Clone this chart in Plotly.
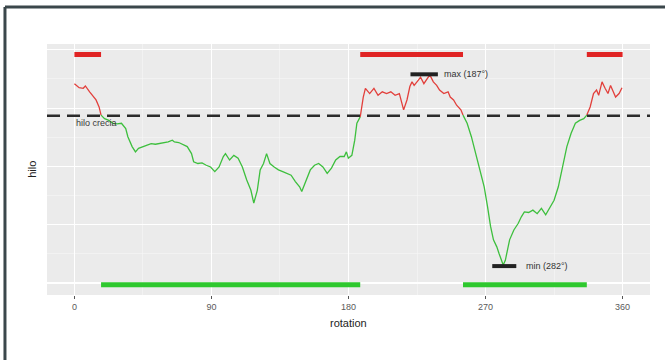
import plotly.graph_objects as go

# ---- data ----
rotation = [0, 3.1, 5.8, 7.2, 10.0, 12.8, 14.2, 16.2, 17.5,
            19.8, 22.6, 25.3, 28.1, 30.9, 33.7, 35.1, 37.9, 40.1, 42.1, 44.8, 47.6, 50.4, 53.2, 56.0,
            58.8, 61.6, 64.3, 65.7, 68.5, 71.3, 74.1, 76.9, 78.3, 81.1, 83.8, 86.6, 89.4, 92.2, 95.0,
            97.8, 99.2, 101.9, 104.7, 107.5, 110.3, 113.1, 115.9, 117.8, 120.1, 122.0, 124.2, 126.2,
            128.4, 131.2, 134.0, 136.8, 139.6, 142.3, 145.1, 147.9, 149.3, 152.1, 154.9, 157.7, 160.4,
            163.2, 166.0, 168.8, 171.6, 174.4, 177.2, 178.6, 179.9, 182.2, 184.1, 185.5, 187.7,
            189.7, 191.1, 193.9, 196.7, 199.4, 202.2, 205.0, 207.8, 210.6, 213.4, 214.8, 216.2, 218.4,
            220.3, 221.7, 223.1, 225.9, 227.3, 229.5, 231.5, 233.4, 235.7, 237.9, 239.8, 242.6, 245.4,
            246.8, 249.0, 251.0, 253.8, 255.2,
            257.9, 260.7, 263.5, 266.3, 269.1, 271.3, 273.3, 275.2, 277.4, 278.8, 280.2, 281.6, 283.0,
            284.4, 285.8, 288.6, 291.4, 293.6, 295.5, 298.3, 301.1, 303.9, 306.7, 309.5, 312.3, 315.0,
            317.8, 320.6, 323.4, 326.2, 329.0, 331.8, 334.5, 336.5,
            338.7, 340.9, 342.9, 344.3, 346.5, 348.5, 350.4, 352.1, 354.1, 355.4, 357.7, 359.6]
hilo = [34.2, 33.5, 33.4, 33.8, 32.8, 31.9, 31.4, 30.2, 28.8,
        28.2, 27.9, 27.4, 27.3, 27.4, 26.5, 25.1, 23.4, 22.5, 23.1, 23.4, 23.7, 23.9, 23.8, 23.9,
        24.1, 24.2, 24.5, 24.2, 24.1, 23.8, 23.4, 22.2, 20.8, 20.5, 20.6, 20.2, 19.9, 19.1, 19.9,
        21.7, 22.2, 21.1, 21.9, 21.4, 19.9, 17.7, 15.9, 13.7, 15.9, 19.4, 20.5, 22.2,
        20.5, 19.9, 19.4, 19.1, 18.8, 18.5, 17.4, 16.5, 15.7, 17.7, 19.4, 20.2, 20.5,
        19.9, 18.8, 19.7, 21.1, 21.7, 21.7, 22.5, 21.4, 21.9, 24.5, 27.4, 28.5,
        31.9, 33.4, 32.5, 33.4, 32.2, 32.8, 32.5, 32.8, 32.2, 32.5, 30.8, 29.7, 31.4,
        33.7, 34.5, 33.9, 34.8, 35.3, 34.2, 35.1, 35.7, 34.5, 33.9, 33.1, 32.5, 32.8,
        31.9, 31.4, 30.5, 29.7, 28.8,
        27.4, 25.1, 22.2, 19.4, 16.5, 13.1, 9.7, 7.4, 6.2, 5.1, 4.2, 3.1, 3.9,
        5.7, 7.4, 9.1, 10.2, 11.4, 12.2, 12.1, 12.5, 11.9, 12.8, 11.7, 13.1, 14.2,
        16.5, 19.9, 23.4, 25.7, 27.4, 27.9, 28.2, 28.8,
        30.2, 32.5, 33.1, 32.2, 34.5, 33.4, 32.5, 33.9, 32.8, 31.9, 32.5, 33.5]

threshold = 28.7
threshold_label = "hilo crecia"

# spans above / below threshold (start, end in degrees)
above_spans = [(0, 17.5), (187.7, 255.2), (336.5, 360)]
below_spans = [(17.5, 187.7), (255.2, 336.5)]
above_band = 39.2
below_band = -0.3

max_label = "max (187°)"
max_span = (220.7, 238.7)
max_value = 35.8
min_label = "min (282°)"
min_span = (274.4, 290.2)
min_value = 2.9

x_ticks = [0, 90, 180, 270, 360]

RED_LINE = "#e2403c"
GREEN_LINE = "#3dbf3d"
RED_BAR = "#e02424"
GREEN_BAR = "#2ec82e"

fig = go.Figure()

# colored line split by threshold
segs = []
cur_color = None
cur_x, cur_y = [], []
for i in range(len(rotation) - 1):
    c = RED_LINE if (hilo[i] + hilo[i + 1]) / 2 >= threshold else GREEN_LINE
    if c != cur_color:
        if cur_color is not None:
            segs.append((cur_color, cur_x, cur_y))
        cur_color = c
        cur_x, cur_y = [rotation[i]], [hilo[i]]
    cur_x.append(rotation[i + 1])
    cur_y.append(hilo[i + 1])
segs.append((cur_color, cur_x, cur_y))

for c, xs, ys in segs:
    fig.add_trace(go.Scatter(x=xs, y=ys, mode="lines",
                             line=dict(color=c, width=1.3), hoverinfo="skip"))

# threshold dashed line
fig.add_trace(go.Scatter(x=[-18, 378], y=[threshold, threshold], mode="lines",
                         line=dict(color="#2b2b2b", width=2.6, dash="13px,7px"), hoverinfo="skip"))

# bands
for a, b in above_spans:
    fig.add_trace(go.Scatter(x=[a, b], y=[above_band, above_band], mode="lines",
                             line=dict(color=RED_BAR, width=5), hoverinfo="skip"))
for a, b in below_spans:
    fig.add_trace(go.Scatter(x=[a, b], y=[below_band, below_band], mode="lines",
                             line=dict(color=GREEN_BAR, width=5), hoverinfo="skip"))

# max / min markers
fig.add_trace(go.Scatter(x=list(max_span), y=[max_value, max_value], mode="lines",
                         line=dict(color="#222222", width=4), hoverinfo="skip"))
fig.add_trace(go.Scatter(x=list(min_span), y=[min_value, min_value], mode="lines",
                         line=dict(color="#222222", width=4), hoverinfo="skip"))

txt_font = dict(family="Liberation Sans, Arial, sans-serif", size=9, color="#333333")
fig.add_annotation(x=max_span[1] + 3, y=max_value, text=max_label, showarrow=False,
                   xanchor="left", yanchor="middle", font=txt_font)
fig.add_annotation(x=min_span[1] + 5, y=min_value, text=min_label, showarrow=False,
                   xanchor="left", yanchor="middle", font=txt_font)
fig.add_annotation(x=0, y=threshold - 1.2, text=threshold_label, showarrow=False,
                   xanchor="left", yanchor="middle", font=dict(family="Liberation Sans, Arial, sans-serif",
                                                               size=9, color="#3a3a3a"))

# axis titles
fig.add_annotation(xref="paper", yref="paper", x=0.5, y=-0.112, text="rotation", showarrow=False,
                   xanchor="center", yanchor="middle",
                   font=dict(family="Liberation Sans, Arial, sans-serif", size=11, color="#222222"))
fig.add_annotation(xref="paper", yref="paper", x=-0.026, y=0.5, text="hilo", showarrow=False,
                   textangle=-90, xanchor="center", yanchor="middle",
                   font=dict(family="Liberation Sans, Arial, sans-serif", size=11, color="#222222"))

# frame around the picture
fig.add_shape(type="line", xref="paper", yref="paper", x0=-0.0697, x1=-0.0697, y0=1.147, y1=-0.3,
              line=dict(color="#3b474b", width=3))
fig.add_shape(type="line", xref="paper", yref="paper", x0=-0.0697, x1=1.05, y0=1.147, y1=1.147,
              line=dict(color="#3b474b", width=3))

fig.update_layout(
    width=665, height=360,
    margin=dict(l=47, r=15, t=44, b=65),
    paper_bgcolor="white", plot_bgcolor="#ebebeb",
    showlegend=False,
    hovermode=False,
    font=dict(family="Liberation Sans, Arial, sans-serif"),
)
fig.update_xaxes(range=[-18, 378], tickvals=x_ticks, ticktext=[str(t) for t in x_ticks],
                 showgrid=True, gridcolor="white", gridwidth=1.2, zeroline=False,
                 ticks="outside", ticklen=3, tickcolor="#555555", tickwidth=1,
                 tickfont=dict(size=9, color="#5a5a5a"),
                 minor=dict(tickvals=[45, 135, 225, 315], showgrid=True, gridcolor="#f7f7f7",
                            gridwidth=0.6, ticks=""),
                 showline=False)
fig.update_yaxes(range=[-2.06, 41.0], tickvals=[0, 10, 20, 30, 40], showticklabels=False,
                 showgrid=True, gridcolor="white", gridwidth=1.2, zeroline=False, ticks="",
                 minor=dict(tickvals=[5, 15, 25, 35], showgrid=True, gridcolor="#f7f7f7",
                            gridwidth=0.6, ticks=""),
                 showline=False)

fig.write_html("out.html", config={"displayModeBar": False, "staticPlot": True},
               post_script="document.body.style.margin='0';document.body.style.overflow='hidden';")
